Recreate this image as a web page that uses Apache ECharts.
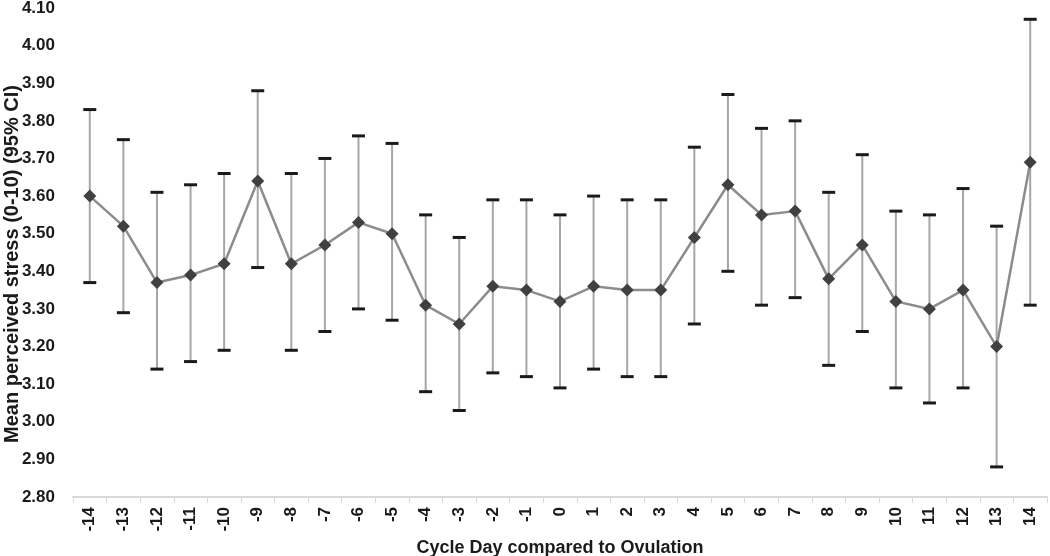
<!DOCTYPE html>
<html>
<head>
<meta charset="utf-8">
<script src="https://cdn.jsdelivr.net/npm/echarts@6/dist/echarts.min.js"></script>
<style>html,body{margin:0;padding:0;background:#fff;}#c{width:1050px;height:556px;}</style>
</head>
<body>
<div id="c"></div>
<script>
var days = ['-14','-13','-12','-11','-10','-9','-8','-7','-6','-5','-4','-3','-2','-1','0','1','2','3','4','5','6','7','8','9','10','11','12','13','14'];
var means = [3.60,3.52,3.37,3.39,3.42,3.64,3.42,3.47,3.53,3.50,3.31,3.26,3.36,3.35,3.32,3.36,3.35,3.35,3.49,3.63,3.55,3.56,3.38,3.47,3.32,3.30,3.35,3.20,3.69];
var upper = [3.83,3.75,3.61,3.63,3.66,3.88,3.66,3.70,3.76,3.74,3.55,3.49,3.59,3.59,3.55,3.60,3.59,3.59,3.73,3.87,3.78,3.80,3.61,3.71,3.56,3.55,3.62,3.52,4.07];
var lower = [3.37,3.29,3.14,3.16,3.19,3.41,3.19,3.24,3.30,3.27,3.08,3.03,3.13,3.12,3.09,3.14,3.12,3.12,3.26,3.40,3.31,3.33,3.15,3.24,3.09,3.05,3.09,2.88,3.31];
var yTicks = ['2.80','2.90','3.00','3.10','3.20','3.30','3.40','3.50','3.60','3.70','3.80','3.90','4.00','4.10'];
var xTitle = 'Cycle Day compared to Ovulation';
var yTitle = 'Mean perceived stress (0-10) (95% CI)';

var errData = days.map(function(d, i){ return [i, lower[i], upper[i]]; });

var chart = echarts.init(document.getElementById('c'), null, {renderer:'canvas'});
chart.setOption({
  animation: false,
  backgroundColor: '#ffffff',
  grid: {left: 73, right: 3, top: 8, bottom: 59, containLabel: false, outerBoundsMode: 'none'},
  graphic: [{
    type: 'text',
    x: 12, y: 264,
    rotation: Math.PI / 2,
    style: {
      text: yTitle,
      fontFamily: 'Liberation Sans, Arial', fontWeight: 'bold', fontSize: 20,
      fill: '#1a1a1a', align: 'center', verticalAlign: 'middle'
    }
  }],
  xAxis: {
    type: 'category',
    data: days,
    boundaryGap: true,
    name: xTitle,
    nameLocation: 'middle',
    nameGap: 41,
    nameTextStyle: {fontFamily: 'Liberation Sans, Arial', fontWeight: 'bold', fontSize: 18, color: '#1a1a1a'},
    axisLine: {lineStyle: {color: '#d9d9d9', width: 2}},
    axisTick: {show: true, alignWithLabel: false, length: 6, lineStyle: {color: '#d9d9d9', width: 1}},
    axisLabel: {rotate: 90, margin: 10, fontFamily: 'Liberation Sans, Arial', fontWeight: 'bold', fontSize: 17, color: '#1a1a1a', interval: 0},
    splitLine: {show: false}
  },
  yAxis: {
    type: 'value',
    min: 2.8,
    max: 4.1,
    interval: 0.1,
    axisLine: {show: false},
    axisTick: {show: false},
    splitLine: {show: false},
    axisLabel: {
      margin: 18,
      fontFamily: 'Liberation Sans, Arial', fontWeight: 'bold', fontSize: 17, color: '#1a1a1a',
      formatter: function(v){ var s = v.toFixed(2); return yTicks.indexOf(s) >= 0 ? s : ''; }
    }
  },
  series: [
    {
      type: 'custom',
      data: errData,
      z: 2,
      renderItem: function(params, api){
        var x = api.value(0);
        var lo = api.coord([x, api.value(1)]);
        var hi = api.coord([x, api.value(2)]);
        var hw = 6.5;
        return {
          type: 'group',
          children: [
            {type: 'line', shape: {x1: lo[0], y1: lo[1], x2: hi[0], y2: hi[1]}, style: {stroke: '#a6a6a6', lineWidth: 2}},
            {type: 'line', shape: {x1: hi[0]-hw, y1: hi[1], x2: hi[0]+hw, y2: hi[1]}, style: {stroke: '#1a1a1a', lineWidth: 3}},
            {type: 'line', shape: {x1: lo[0]-hw, y1: lo[1], x2: lo[0]+hw, y2: lo[1]}, style: {stroke: '#1a1a1a', lineWidth: 3}}
          ]
        };
      }
    },
    {
      type: 'line',
      data: means,
      z: 3,
      symbol: 'diamond',
      symbolSize: [13, 13],
      lineStyle: {color: '#8c8c8c', width: 2.5},
      itemStyle: {color: '#404040', borderWidth: 0}
    }
  ]
});
</script>
</body>
</html>
